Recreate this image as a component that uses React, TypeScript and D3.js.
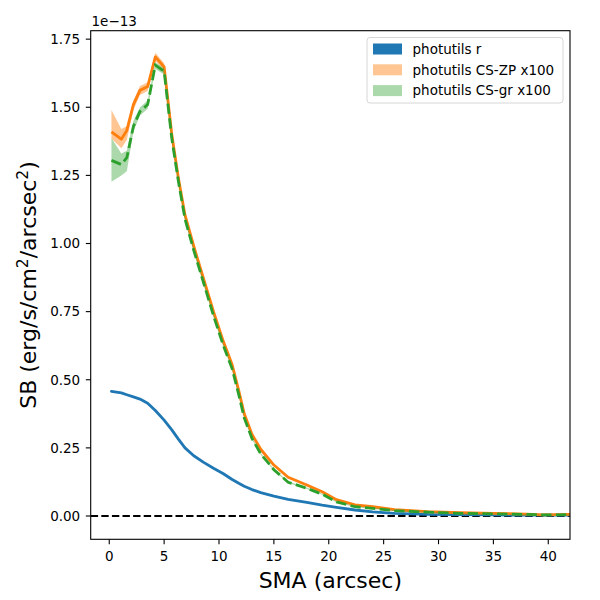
import React from "react";
import * as d3 from "d3";

// surface brightness profiles, values in units of 1e-13 erg/s/cm2/arcsec2
const sma = [0.2, 1.1, 1.6, 2.2, 2.8, 3.5, 4.2, 5.0, 5.7, 6.3, 6.9, 7.7, 8.6, 9.5, 10.4, 11.2, 11.8, 12.3, 13.0, 13.8, 15.0, 16.3, 18.0, 19.4, 20.7, 22.4, 24.0, 26.0, 29.0, 32.0, 35.0, 38.0, 39.5, 42.5];

const photR = [0.457, 0.452, 0.445, 0.437, 0.429, 0.414, 0.387, 0.352, 0.316, 0.282, 0.25, 0.221, 0.197, 0.175, 0.155, 0.134, 0.12, 0.109, 0.097, 0.086, 0.073, 0.061, 0.05, 0.04, 0.032, 0.022, 0.015, 0.01, 0.006, 0.005, 0.004, 0.003, 0.003, 0.003];

const csZP = [1.41, 1.383, 1.415, 1.51, 1.562, 1.576, 1.685, 1.648, 1.4, 1.24, 1.105, 0.99, 0.87, 0.75, 0.64, 0.555, 0.46, 0.375, 0.3, 0.245, 0.187, 0.142, 0.114, 0.089, 0.06, 0.041, 0.034, 0.023, 0.016, 0.012, 0.01, 0.007, 0.004, 0.006];
const csZPLo = [1.385, 1.35, 1.38, 1.49, 1.545, 1.56, 1.67, 1.635, 1.39, 1.23, 1.095, 0.981, 0.862, 0.743, 0.634, 0.55, 0.455, 0.371, 0.296, 0.242, 0.184, 0.139, 0.111, 0.087, 0.058, 0.039, 0.032, 0.021, 0.014, 0.011, 0.009, 0.006, 0.003, 0.005];
const csZPHi = [1.49, 1.42, 1.43, 1.525, 1.578, 1.592, 1.7, 1.662, 1.41, 1.25, 1.115, 0.999, 0.878, 0.757, 0.646, 0.56, 0.465, 0.379, 0.304, 0.248, 0.19, 0.145, 0.117, 0.091, 0.062, 0.043, 0.036, 0.025, 0.018, 0.013, 0.011, 0.008, 0.005, 0.007];

const csGR = [1.305, 1.29, 1.315, 1.43, 1.485, 1.51, 1.655, 1.632, 1.385, 1.228, 1.09, 0.975, 0.855, 0.735, 0.625, 0.54, 0.445, 0.36, 0.285, 0.228, 0.17, 0.124, 0.102, 0.08, 0.052, 0.034, 0.028, 0.02, 0.014, 0.01, 0.008, 0.006, 0.004, 0.005];
const csGRLo = [1.227, 1.25, 1.265, 1.41, 1.47, 1.495, 1.64, 1.62, 1.375, 1.22, 1.082, 0.967, 0.848, 0.728, 0.619, 0.535, 0.44, 0.356, 0.281, 0.225, 0.167, 0.121, 0.099, 0.078, 0.05, 0.032, 0.026, 0.018, 0.012, 0.009, 0.007, 0.005, 0.003, 0.004];
const csGRHi = [1.387, 1.33, 1.34, 1.45, 1.5, 1.525, 1.665, 1.643, 1.395, 1.236, 1.098, 0.983, 0.862, 0.742, 0.631, 0.545, 0.45, 0.364, 0.289, 0.231, 0.173, 0.127, 0.105, 0.082, 0.054, 0.036, 0.03, 0.022, 0.016, 0.011, 0.009, 0.007, 0.005, 0.006];

const xTicks = [0, 5, 10, 15, 20, 25, 30, 35, 40];
const yTicks = [0, 0.25, 0.5, 0.75, 1.0, 1.25, 1.5, 1.75];

const legendItems = [
  { label: "photutils r", color: "#1f77b4", alpha: 1 },
  { label: "photutils CS-ZP x100", color: "#ff7f0e", alpha: 0.45 },
  { label: "photutils CS-gr x100", color: "#2ca02c", alpha: 0.4 },
];

const W = 600;
const H = 600;
const left = 90.7;
const right = 570;
const top = 30.7;
const bottom = 539.3;
const font = "DejaVu Sans, sans-serif";

export default function App() {
  const x = d3.scaleLinear().domain([-1.69, 41.98]).range([left, right]);
  const y = d3.scaleLinear().domain([-0.0855, 1.781]).range([bottom, top]);

  const idx = sma.map((_, i) => i);
  const line = (vals: number[]) =>
    d3.line<number>().x((i) => x(sma[i])).y((i) => y(vals[i]))(idx) || "";
  const band = (lo: number[], hi: number[]) =>
    d3.area<number>().x((i) => x(sma[i])).y0((i) => y(lo[i])).y1((i) => y(hi[i]))(idx) || "";

  return (
    <svg width={W} height={H} style={{ position: "absolute", left: 0, top: 0, background: "#fff" }} fontFamily={font}>
      <defs>
        <clipPath id="plotclip">
          <rect x={left} y={top} width={right - left} height={bottom - top} />
        </clipPath>
      </defs>
      <g clipPath="url(#plotclip)">
        <line x1={left} x2={right} y1={y(0)} y2={y(0)} stroke="#000" strokeWidth={2} strokeDasharray="7.4,3.2" />
        <path d={line(photR)} fill="none" stroke="#1f77b4" strokeWidth={2.8} strokeLinejoin="round" strokeLinecap="round" />
        <path d={band(csZPLo, csZPHi)} fill="#ff7f0e" fillOpacity={0.45} />
        <path d={line(csZP)} fill="none" stroke="#ff7f0e" strokeWidth={2.8} strokeLinejoin="round" />
        <path d={band(csGRLo, csGRHi)} fill="#2ca02c" fillOpacity={0.4} />
        <path d={line(csGR)} fill="none" stroke="#2ca02c" strokeWidth={2.8} strokeDasharray="10.3,4.4" />
      </g>

      {/* frame */}
      <rect x={left} y={top} width={right - left} height={bottom - top} fill="none" stroke="#000" strokeWidth={1.1} />

      {/* x axis */}
      {xTicks.map((t) => (
        <g key={"x" + t}>
          <line x1={x(t)} x2={x(t)} y1={bottom} y2={bottom + 4.9} stroke="#000" strokeWidth={1.1} />
          <text x={x(t)} y={bottom + 21.5} fontSize={13.5} textAnchor="middle" fill="#000">{t}</text>
        </g>
      ))}
      <text x={(left + right) / 2} y={588} fontSize={22} textAnchor="middle" fill="#000">SMA (arcsec)</text>

      {/* y axis */}
      {yTicks.map((t) => (
        <g key={"y" + t}>
          <line x1={left - 4.9} x2={left} y1={y(t)} y2={y(t)} stroke="#000" strokeWidth={1.1} />
          <text x={left - 10.5} y={y(t) + 4.8} fontSize={13.5} textAnchor="end" fill="#000">{t.toFixed(2)}</text>
        </g>
      ))}
      <text x={91.5} y={26} fontSize={13.5} fill="#000">1e−13</text>
      <text transform={`translate(36,${(top + bottom) / 2}) rotate(-90)`} fontSize={22} textAnchor="middle" fill="#000">
        SB (erg/s/cm<tspan fontSize={15.5} dy={-8}>2</tspan>
        <tspan dy={8}>/arcsec</tspan>
        <tspan fontSize={15.5} dy={-8}>2</tspan>
        <tspan dy={8}>)</tspan>
      </text>

      {/* legend */}
      <rect x={367} y={37.5} width={196} height={65.5} rx={3} fill="#fff" fillOpacity={0.8} stroke="#d6d6d6" strokeWidth={1} />
      {legendItems.map((it, i) => (
        <g key={it.label} transform={`translate(0,${49 + i * 20.8})`}>
          <rect x={373} y={-5.5} width={29} height={11} fill={it.color} fillOpacity={it.alpha} />
          <text x={412.5} y={4.8} fontSize={13.5} fill="#000">{it.label}</text>
        </g>
      ))}
    </svg>
  );
}
